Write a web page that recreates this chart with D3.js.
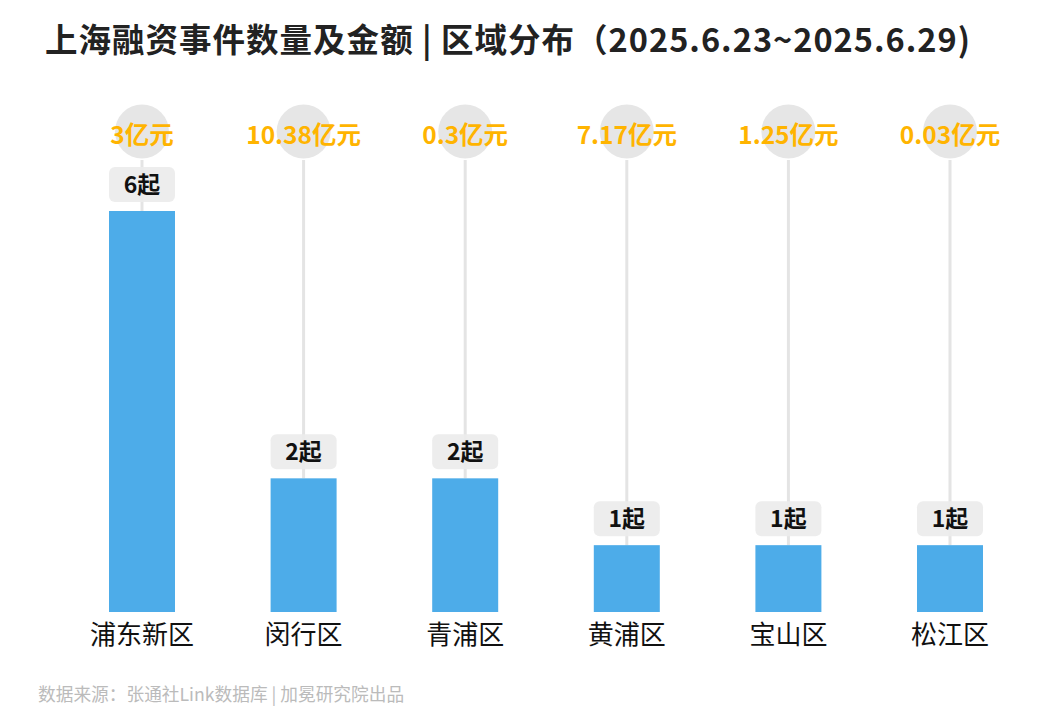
<!DOCTYPE html>
<html>
<head>
<meta charset="utf-8">
<script src="https://cdn.jsdelivr.net/npm/d3@7"></script>
<style>
  body { margin: 0; background: #fff; }
  text { font-family: "Noto Sans CJK SC", "Noto Sans", sans-serif; }
</style>
</head>
<body>
<div id="chart"></div>
<script>
const districts = ["浦东新区", "闵行区", "青浦区", "黄浦区", "宝山区", "松江区"];
const counts = [6, 2, 2, 1, 1, 1];
const amounts = ["3亿元", "10.38亿元", "0.3亿元", "7.17亿元", "1.25亿元", "0.03亿元"];

const W = 1056, H = 728;
const baseline = 612;

const svg = d3.select("#chart").append("svg")
  .attr("width", W).attr("height", H);

// title
svg.append("text")
  .attr("x", 45).attr("y", 52)
  .attr("font-size", 32.5).attr("font-weight", 700)
  .attr("fill", "#222")
  .attr("textLength", 925).attr("lengthAdjust", "spacing")
  .text("上海融资事件数量及金额 | 区域分布（2025.6.23~2025.6.29)");

// bands: step ~161.6, bar width 66
const x = d3.scaleBand()
  .domain(districts)
  .range([61.2, 1030.8])
  .paddingInner(0.5916).paddingOuter(0.2958);

const y = d3.scaleLinear()
  .domain([0, 6])
  .range([baseline, 211]);

const data = districts.map((d, i) => ({ name: d, count: counts[i], amount: amounts[i] }));
const cx = d => x(d.name) + x.bandwidth() / 2;
const circleY = 131.5, r = 27;

const g = svg.append("g");

// lollipop stems
g.selectAll(".stem").data(data).enter().append("line")
  .attr("x1", cx).attr("x2", cx)
  .attr("y1", 160).attr("y2", d => y(d.count))
  .attr("stroke", "#e4e4e4").attr("stroke-width", 3);

g.selectAll(".dot").data(data).enter().append("circle")
  .attr("cx", cx).attr("cy", circleY).attr("r", r)
  .attr("fill", "#e6e6e6");

// bars
g.selectAll(".bar").data(data).enter().append("rect")
  .attr("x", d => x(d.name)).attr("width", x.bandwidth())
  .attr("y", d => y(d.count)).attr("height", d => y(0) - y(d.count))
  .attr("fill", "#4dace9");

// count boxes
g.selectAll(".box").data(data).enter().append("rect")
  .attr("x", d => cx(d) - 33).attr("width", 66)
  .attr("y", d => y(d.count) - 44).attr("height", 35)
  .attr("rx", 6)
  .attr("fill", "#ececec").attr("fill-opacity", 0.92);

g.selectAll(".count").data(data).enter().append("text")
  .attr("x", cx).attr("y", d => y(d.count) - 26.5)
  .attr("dy", "0.36em")
  .attr("text-anchor", "middle")
  .attr("font-size", 23).attr("font-weight", 700)
  .attr("fill", "#111")
  .text(d => d.count + "起");

// amounts
g.selectAll(".amount").data(data).enter().append("text")
  .attr("x", cx).attr("y", 135)
  .attr("dy", "0.36em")
  .attr("text-anchor", "middle")
  .attr("font-size", 24.5).attr("font-weight", 700)
  .attr("fill", "#ffb400")
  .text(d => d.amount);

// x axis labels
svg.append("g")
  .attr("transform", "translate(0," + baseline + ")")
  .call(d3.axisBottom(x).tickSize(0).tickPadding(14))
  .call(a => a.select(".domain").remove())
  .call(a => a.selectAll(".tick text")
    .attr("font-size", 26).attr("fill", "#111")
    .style("font-family", "'Noto Sans CJK SC', sans-serif"));

// footer
svg.append("text")
  .attr("x", 38).attr("y", 701)
  .attr("font-size", 17.7).attr("fill", "#bbbbbb")
  .text("数据来源：张通社Link数据库 | 加冕研究院出品");
</script>
</body>
</html>
